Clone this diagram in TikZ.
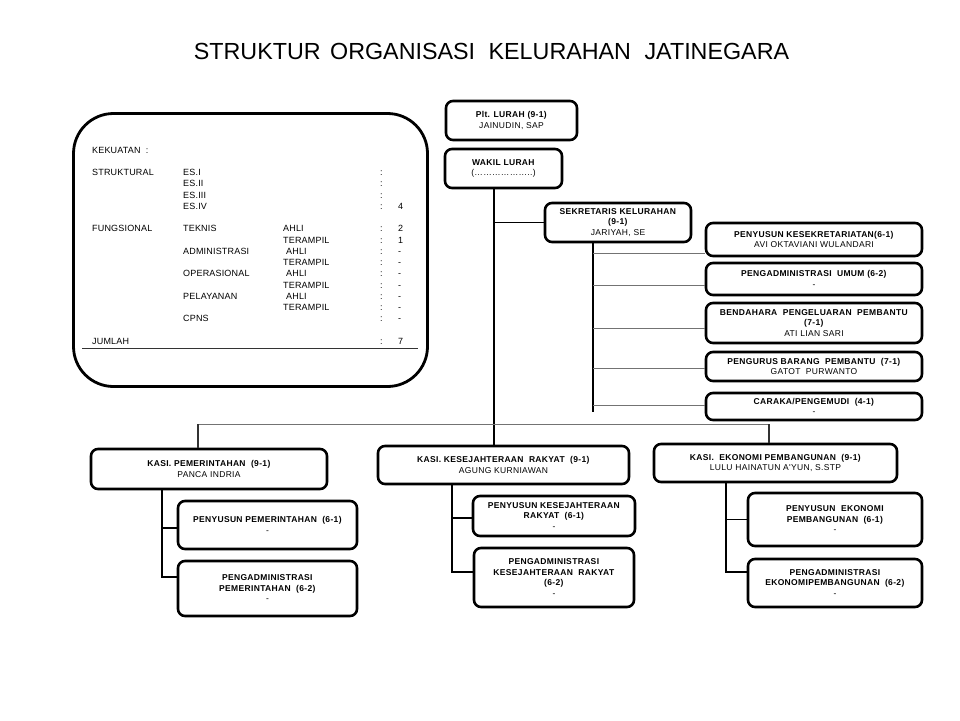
\documentclass[tikz,border=0pt]{standalone}
\usepackage{fontspec}
\setmainfont{Liberation Sans}
\newfontfamily\boxfont{Liberation Sans}[LetterSpace=4]
\newfontfamily\tabfamily{Liberation Sans}[LetterSpace=2]
\begin{document}
\begin{tikzpicture}[x=1pt,y=-1pt,
  box/.style={draw=black, line width=2.6pt, rounded corners=7pt, align=center, inner sep=0pt,
    font=\boxfont\fontsize{8.5}{10.5}\selectfont},
  trunk/.style={draw=black, line width=1.8pt},
  subline/.style={draw=black, line width=1.6pt},
  thinline/.style={draw=black!55, line width=0.9pt},
  dropline/.style={draw=black!80, line width=1.2pt},
  rule/.style={draw=black!80, line width=1pt}]
\useasboundingbox[fill=white] (0,0) rectangle (960,720);

% title
\node[anchor=base, inner sep=0pt, font=\fontsize{23.3}{28}\selectfont] (title) at (491.5,59.5)
  {STRUKTUR\hspace{3pt} ORGANISASI\hspace{7pt} KELURAHAN\hspace{7pt} JATINEGARA};

% kekuatan box
\node[draw=black, line width=2.8pt, rounded corners=40pt, minimum width=354pt, minimum height=273pt, inner sep=0pt] (kekuatan) at (250.5,250) {};
\node[anchor=base west, inner sep=0pt, font=\tabfamily\fontsize{9}{11.25}\selectfont] (tbl) at (92,153) {%
\begin{tabular}[t]{@{}p{91pt}@{}p{100pt}@{}p{97pt}@{}p{18pt}@{}l@{}}
KEKUATAN\ \ : &&&&\\
&&&&\\
STRUKTURAL & ES.I && : & \\
& ES.II && : & \\
& ES.III && : & \\
& ES.IV && : & 4\\
&&&&\\
FUNGSIONAL & TEKNIS & AHLI & : & 2\\
&& TERAMPIL & : & 1\\
& ADMINISTRASI & \hspace{3pt}AHLI & : & -\\
&& TERAMPIL & : & -\\
& OPERASIONAL & \hspace{3pt}AHLI & : & -\\
&& TERAMPIL & : & -\\
& PELAYANAN & \hspace{3pt}AHLI & : & -\\
&& TERAMPIL & : & -\\
& CPNS && : & -\\
&&&&\\
JUMLAH &&& : & 7
\end{tabular}};
\coordinate (ruleL) at (82,348);
\coordinate (ruleR) at (418,348);
\draw[rule] (ruleL) -- (ruleR);

% top boxes
\node[box, minimum width=131pt, minimum height=39pt] (lurah) at (511.5,120.5) {\textbf{Plt. LURAH (9-1)}\\JAINUDIN, SAP};
\node[box, minimum width=117pt, minimum height=39pt] (wakil) at (503.5,168.5) {\textbf{WAKIL LURAH}\\(………………..)};
\node[box, minimum width=146pt, minimum height=39pt] (sek) at (618,222.5) {\textbf{SEKRETARIS KELURAHAN}\\\textbf{(9-1)}\\JARIYAH, SE};

% secretariat staff
\node[box, minimum width=216pt, minimum height=33pt] (p1) at (814,239.5) {\textbf{PENYUSUN KESEKRETARIATAN(6-1)}\\AVI OKTAVIANI WULANDARI};
\node[box, minimum width=216pt, minimum height=32pt] (p2) at (814,279) {\textbf{PENGADMINISTRASI\ \ UMUM (6-2)}\\-};
\node[box, minimum width=216pt, minimum height=40pt] (p3) at (814,323) {\textbf{BENDAHARA\ \ PENGELUARAN\ \ PEMBANTU}\\\textbf{(7-1)}\\ATI LIAN SARI};
\node[box, minimum width=216pt, minimum height=29pt] (p4) at (814,366.5) {\textbf{PENGURUS BARANG\ \ PEMBANTU\ \ (7-1)}\\GATOT\ \ PURWANTO};
\node[box, minimum width=216pt, minimum height=27pt] (p5) at (814,406.5) {\textbf{CARAKA/PENGEMUDI\ \ (4-1)}\\-};

% sections
\node[box, minimum width=236pt, minimum height=40pt] (pem) at (209,469) {\textbf{KASI. PEMERINTAHAN\ \ (9-1)}\\PANCA INDRIA};
\node[box, minimum width=179pt, minimum height=48pt] (pem1) at (267.5,525) {\textbf{PENYUSUN PEMERINTAHAN\ \ (6-1)}\\-};
\node[box, minimum width=179pt, minimum height=55pt] (pem2) at (267.5,588.5) {\textbf{PENGADMINISTRASI}\\\textbf{PEMERINTAHAN\ \ (6-2)}\\-};

\node[box, minimum width=251pt, minimum height=38pt] (kesra) at (503.5,465) {\textbf{KASI. KESEJAHTERAAN\ \ RAKYAT\ \ (9-1)}\\AGUNG KURNIAWAN};
\node[box, minimum width=162pt, minimum height=40pt] (kesra1) at (554,516) {\textbf{PENYUSUN KESEJAHTERAAN}\\\textbf{RAKYAT\ \ (6-1)}\\-};
\node[box, minimum width=160pt, minimum height=59pt] (kesra2) at (554,577.5) {\textbf{PENGADMINISTRASI}\\\textbf{KESEJAHTERAAN\ \ RAKYAT}\\\textbf{(6-2)}\\-};

\node[box, minimum width=243pt, minimum height=38pt] (eko) at (775.5,463) {\textbf{KASI.\ \ EKONOMI PEMBANGUNAN\ \ (9-1)}\\LULU HAINATUN A'YUN, S.STP};
\node[box, minimum width=174pt, minimum height=53pt] (eko1) at (835,519.5) {\textbf{PENYUSUN\ \ EKONOMI}\\\textbf{PEMBANGUNAN\ \ (6-1)}\\-};
\node[box, minimum width=174pt, minimum height=48pt] (eko2) at (835,583) {\textbf{PENGADMINISTRASI}\\\textbf{EKONOMIPEMBANGUNAN\ \ (6-2)}\\-};

% connector guide coordinates
\coordinate (T) at (494,0);
\coordinate (S) at (593,0);
\coordinate (sekend) at (593,412);
\coordinate (barL) at (198,424);
\coordinate (barR) at (769,424);
\coordinate (P) at (162,0);
\coordinate (K) at (452,0);
\coordinate (E) at (726,0);

% main trunk
\draw[trunk] (wakil.south -| T) -- (kesra.north -| T);
\draw[trunk] (T |- sek.west) -- (sek.west);

% secretariat branch
\draw[trunk] (sek.south -| S) -- (sekend);
\coordinate (c1) at ([yshift=-13.5pt]p1.west);
\coordinate (c2) at ([yshift=-6pt]p2.west);
\coordinate (c3) at ([yshift=-5pt]p3.west);
\coordinate (c4) at ([yshift=-1.5pt]p4.west);
\coordinate (c5) at ([yshift=1.5pt]p5.west);
\foreach \c in {c1,c2,c3,c4,c5} {\draw[thinline] (S |- \c) -- (\c);}

% bar to sections
\draw[thinline] (barL) -- (barR);
\draw[dropline] (barL) -- (barL |- pem.north);
\draw[dropline] (barR) -- (barR |- eko.north);

% section sub-branches
\coordinate (d1) at ([yshift=-3pt]pem1.west);
\coordinate (d2) at ([yshift=11.5pt]pem2.west);
\draw[subline] (pem.south -| P) -- (P |- d2) -- (d2);
\draw[subline] (P |- d1) -- (d1);

\coordinate (k1) at ([yshift=-2pt]kesra1.west);
\coordinate (k2) at ([yshift=5.5pt]kesra2.west);
\draw[subline] (kesra.south -| K) -- (K |- k2) -- (k2);
\draw[subline] (K |- k1) -- (k1);

\coordinate (e1) at (eko1.west);
\coordinate (e2) at ([yshift=11pt]eko2.west);
\draw[subline] (eko.south -| E) -- (E |- e2) -- (e2);
\draw[subline] (E |- e1) -- (e1);
\end{tikzpicture}
\end{document}
